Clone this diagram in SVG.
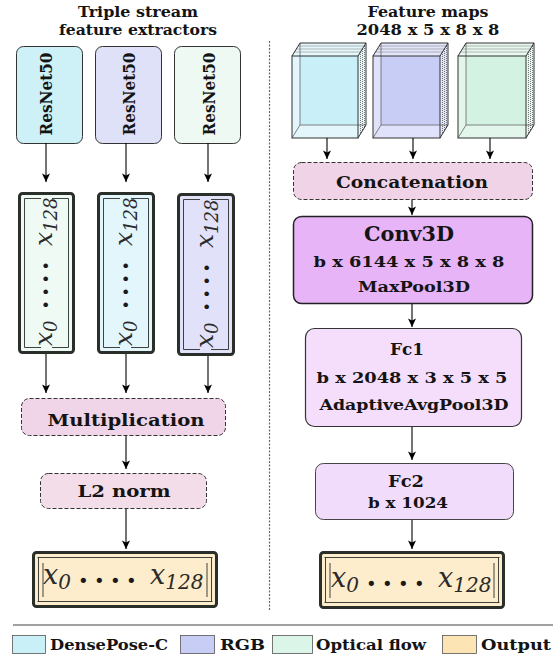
<svg xmlns="http://www.w3.org/2000/svg" width="553" height="659" viewBox="0 0 553 659">
<style>
.b{font-family:"DejaVu Serif","Liberation Serif",serif;font-weight:bold;fill:#141414}
.m{font-family:"DejaVu Serif",serif;font-style:italic;fill:#2a2a2a}
.d{font-family:"DejaVu Sans","Liberation Sans",sans-serif;fill:#1a1a1a}
.box{stroke:#333;stroke-width:1}
.dash{stroke:#333;stroke-width:1;stroke-dasharray:4 2}
.vec{stroke:#2b2f2a;stroke-width:3}
.inner{fill:none;stroke:#2b2f2a;stroke-width:0.9}
.edge{stroke:#333;stroke-width:1;fill:none}
.hid{stroke:#666;stroke-width:0.8;fill:none}
.dot{stroke:#555;stroke-width:0.8;stroke-dasharray:1 1;fill:none}
.c{stroke:#000;stroke-width:1.1;fill:none}
</style>
<defs>
<marker id="ah" markerWidth="10" markerHeight="10" refX="9" refY="5" orient="auto" markerUnits="userSpaceOnUse">
<path d="M0.5,1 L9,5 L0.5,9 L2.5,5 Z" fill="#000"/>
</marker>
</defs>

<!-- titles -->
<g id="title-left">
<text class="b" x="138" y="17" font-size="14" text-anchor="middle" textLength="120" lengthAdjust="spacingAndGlyphs">Triple stream</text>
<text class="b" x="138" y="35" font-size="14" text-anchor="middle" textLength="158" lengthAdjust="spacingAndGlyphs">feature extractors</text>
</g>
<g id="title-right">
<text class="b" x="428" y="17" font-size="14" text-anchor="middle" textLength="121" lengthAdjust="spacingAndGlyphs">Feature maps</text>
<text class="b" x="428" y="35" font-size="14" text-anchor="middle" textLength="143" lengthAdjust="spacingAndGlyphs">2048 x 5 x 8 x 8</text>
</g>

<!-- divider -->
<line x1="269.5" y1="41" x2="269.5" y2="610" stroke="#666" stroke-width="1.2" stroke-dasharray="2 1.5"/>

<!-- ResNet boxes -->
<g id="resnet1">
<rect class="box" x="16.5" y="46.5" width="66" height="97" rx="7" fill="#cdf1f7"/>
<text class="b" transform="translate(52,94) rotate(-90)" font-size="16" text-anchor="middle" textLength="83" lengthAdjust="spacingAndGlyphs">ResNet50</text>
</g>
<g id="resnet2">
<rect class="box" x="95.5" y="46.5" width="66" height="97" rx="7" fill="#dfe1f8"/>
<text class="b" transform="translate(135,94) rotate(-90)" font-size="16" text-anchor="middle" textLength="83" lengthAdjust="spacingAndGlyphs">ResNet50</text>
</g>
<g id="resnet3">
<rect class="box" x="174.5" y="46.5" width="66" height="97" rx="7" fill="#eef9f3"/>
<text class="b" transform="translate(215,94) rotate(-90)" font-size="16" text-anchor="middle" textLength="83" lengthAdjust="spacingAndGlyphs">ResNet50</text>
</g>

<!-- vector boxes -->
<g id="vec1">
<rect class="vec" x="19.5" y="193.5" width="54" height="159" rx="3" fill="#f0faf4"/>
<path class="inner" d="M41,198.5 H24.5 V347.5 H41 M52,198.5 H68.5 V347.5 H52"/>
<g transform="translate(52,0) rotate(-90)">
<text class="m" x="-346" y="0" font-size="25">x<tspan font-size="18" dy="5">0</tspan></text>
<text class="d" x="-283.5" y="-0.5" font-size="16" letter-spacing="3.6" text-anchor="middle">••••</text>
<text class="m" x="-246" y="0" font-size="25">x<tspan font-size="18" dy="5">128</tspan></text>
</g>
</g>
<g id="vec2">
<rect class="vec" x="98.5" y="193.5" width="55" height="159" rx="3" fill="#e2f6fb"/>
<path class="inner" d="M120,198.5 H103.5 V347.5 H120 M131,198.5 H148.5 V347.5 H131"/>
<g transform="translate(132,0) rotate(-90)">
<text class="m" x="-346" y="0" font-size="25">x<tspan font-size="18" dy="5">0</tspan></text>
<text class="d" x="-283.5" y="-0.5" font-size="16" letter-spacing="3.6" text-anchor="middle">••••</text>
<text class="m" x="-246" y="0" font-size="25">x<tspan font-size="18" dy="5">128</tspan></text>
</g>
</g>
<g id="vec3">
<rect class="vec" x="178.5" y="194.5" width="55" height="160" rx="3" fill="#e1e2f9"/>
<path class="inner" d="M200,199.5 H183.5 V349.5 H200 M211,199.5 H228.5 V349.5 H211"/>
<g transform="translate(213,0) rotate(-90)">
<text class="m" x="-348" y="0" font-size="25" fill="#555a88">x<tspan font-size="18" dy="5">0</tspan></text>
<text class="d" x="-285.5" y="-0.5" font-size="16" letter-spacing="3.6" text-anchor="middle">••••</text>
<text class="m" x="-248" y="0" font-size="25" fill="#555a88">x<tspan font-size="18" dy="5">128</tspan></text>
</g>
</g>

<!-- Multiplication -->
<g id="multiplication">
<rect class="dash" x="21.5" y="398.5" width="204" height="37" rx="8" fill="#f0d5e8"/>
<text class="b" x="126" y="426" font-size="17" text-anchor="middle" textLength="157" lengthAdjust="spacingAndGlyphs" fill="#2d1428">Multiplication</text>
</g>
<g id="l2norm">
<rect class="dash" x="40.5" y="473.5" width="166" height="35" rx="8" fill="#f3dde8"/>
<text class="b" x="124" y="497" font-size="17" text-anchor="middle" textLength="93" lengthAdjust="spacingAndGlyphs">L2 norm</text>
</g>
<g id="output-left">
<rect class="vec" x="33.5" y="552.5" width="183" height="54" rx="3" fill="#fdedcc"/>
<path class="inner" d="M37.5,557.5 H212.5 M37.5,601.5 H212.5 M38.5,557.5 V601.5 M211.5,557.5 V601.5 M43,563 V597 M207,563 V597"/>
<text class="m" x="43" y="584" font-size="27">x<tspan font-size="20" dy="5">0</tspan></text>
<text class="d" x="110" y="587" font-size="18" letter-spacing="5.4" text-anchor="middle">••••</text>
<text class="m" x="150" y="584" font-size="27">x<tspan font-size="20" dy="5">128</tspan></text>
</g>

<!-- cubes -->
<g id="cube1">
<polygon points="292,56 300,43 366,43 358,56" fill="#e6f7fb"/>
<polygon points="358,56 366,43 366,125 358,138" fill="#e6f7fb"/>
<rect x="292" y="56" width="66" height="82" fill="#e2f6fb"/>
<rect x="300" y="56" width="58" height="69" fill="#c9f0f8"/>
<path class="hid" d="M300,43 V125 H366 M292,138 L300,125"/>
<path class="dot" d="M294.5,52 H360.5 M296.5,49 H362.5 M298.5,46 H364.5 M360.5,52 V134 M362.5,49 V131 M364.5,46 V128"/>
<path class="edge" d="M292,56 L300,43 H366 L358,56 M366,43 V125 L358,138"/>
<rect class="edge" x="292" y="56" width="66" height="82"/>
</g>
<g id="cube2">
<polygon points="373,56 381,43 448,43 440,56" fill="#e3e6fb"/>
<polygon points="440,56 448,43 448,125 440,138" fill="#e3e6fb"/>
<rect x="373" y="56" width="67" height="82" fill="#dfe2fa"/>
<rect x="381" y="56" width="59" height="69" fill="#c8cdf5"/>
<path class="hid" d="M381,43 V125 H448 M373,138 L381,125"/>
<path class="dot" d="M375.5,52 H442.5 M377.5,49 H444.5 M379.5,46 H446.5 M442.5,52 V134 M444.5,49 V131 M446.5,46 V128"/>
<path class="edge" d="M373,56 L381,43 H448 L440,56 M448,43 V125 L440,138"/>
<rect class="edge" x="373" y="56" width="67" height="82"/>
</g>
<g id="cube3">
<polygon points="458,56 466,43 534,43 526,56" fill="#e8f8ef"/>
<polygon points="526,56 534,43 534,125 526,138" fill="#e8f8ef"/>
<rect x="458" y="56" width="68" height="82" fill="#e3f6ec"/>
<rect x="466" y="56" width="60" height="69" fill="#d4f2e1"/>
<path class="hid" d="M466,43 V125 H534 M458,138 L466,125"/>
<path class="dot" d="M460.5,52 H528.5 M462.5,49 H530.5 M464.5,46 H532.5 M528.5,52 V134 M530.5,49 V131 M532.5,46 V128"/>
<path class="edge" d="M458,56 L466,43 H534 L526,56 M534,43 V125 L526,138"/>
<rect class="edge" x="458" y="56" width="68" height="82"/>
</g>

<g id="concatenation">
<rect class="dash" x="293.5" y="162.5" width="239" height="37" rx="8" fill="#f0d3e6"/>
<text class="b" x="412" y="188" font-size="17" text-anchor="middle" textLength="152" lengthAdjust="spacingAndGlyphs" fill="#2d1428">Concatenation</text>
</g>
<g id="conv3d">
<rect x="293.5" y="216.5" width="239" height="87" rx="8" fill="#e8b4f8" stroke="#222" stroke-width="1.5"/>
<text class="b" x="409" y="241" font-size="21" text-anchor="middle" textLength="90" lengthAdjust="spacingAndGlyphs">Conv3D</text>
<text class="b" x="409" y="267" font-size="15" text-anchor="middle" textLength="191" lengthAdjust="spacingAndGlyphs">b x 6144 x 5 x 8 x 8</text>
<text class="b" x="414" y="292" font-size="15" text-anchor="middle" textLength="112" lengthAdjust="spacingAndGlyphs">MaxPool3D</text>
</g>
<g id="fc1">
<rect x="305.5" y="328.5" width="216" height="98" rx="9" fill="#f4defc" stroke="#333" stroke-width="1.2"/>
<text class="b" x="407" y="355" font-size="17" text-anchor="middle" textLength="34" lengthAdjust="spacingAndGlyphs">Fc1</text>
<text class="b" x="412" y="383" font-size="15" text-anchor="middle" textLength="191" lengthAdjust="spacingAndGlyphs">b x 2048 x 3 x 5 x 5</text>
<text class="b" x="414" y="410" font-size="15" text-anchor="middle" textLength="189" lengthAdjust="spacingAndGlyphs">AdaptiveAvgPool3D</text>
</g>
<g id="fc2">
<rect x="315.5" y="463.5" width="198" height="56" rx="8" fill="#f2dcfc" stroke="#444" stroke-width="1"/>
<text class="b" x="406" y="487" font-size="17" text-anchor="middle" textLength="36" lengthAdjust="spacingAndGlyphs" fill="#2d1428">Fc2</text>
<text class="b" x="408" y="508" font-size="15" text-anchor="middle" textLength="80" lengthAdjust="spacingAndGlyphs" fill="#2d1428">b x 1024</text>
</g>
<g id="output-right">
<rect class="vec" x="320.5" y="552.5" width="183" height="55" rx="3" fill="#fdedcc"/>
<path class="inner" d="M324.5,557.5 H499.5 M324.5,602.5 H499.5 M325.5,557.5 V602.5 M498.5,557.5 V602.5 M330,563 V598 M494,563 V598"/>
<text class="m" x="331" y="587" font-size="27">x<tspan font-size="20" dy="5">0</tspan></text>
<text class="d" x="398" y="590" font-size="18" letter-spacing="5.4" text-anchor="middle">••••</text>
<text class="m" x="438" y="587" font-size="27">x<tspan font-size="20" dy="5">128</tspan></text>
</g>

<!-- connectors -->
<g id="connectors">
<line class="c" x1="46" y1="143" x2="46" y2="182" marker-end="url(#ah)"/>
<line class="c" x1="126" y1="143" x2="126" y2="182" marker-end="url(#ah)"/>
<line class="c" x1="208" y1="143" x2="208" y2="182" marker-end="url(#ah)"/>
<line class="c" x1="46" y1="354" x2="46" y2="393" marker-end="url(#ah)"/>
<line class="c" x1="126" y1="354" x2="126" y2="393" marker-end="url(#ah)"/>
<line class="c" x1="208" y1="356" x2="208" y2="393" marker-end="url(#ah)"/>
<line class="c" x1="126" y1="436" x2="126" y2="469" marker-end="url(#ah)"/>
<line class="c" x1="126" y1="509" x2="126" y2="549" marker-end="url(#ah)"/>
<line class="c" x1="327" y1="138" x2="327" y2="159" marker-end="url(#ah)"/>
<line class="c" x1="413" y1="138" x2="413" y2="159" marker-end="url(#ah)"/>
<line class="c" x1="490" y1="138" x2="490" y2="159" marker-end="url(#ah)"/>
<line class="c" x1="412" y1="200" x2="412" y2="215" marker-end="url(#ah)"/>
<line class="c" x1="412" y1="304" x2="412" y2="327" marker-end="url(#ah)"/>
<line class="c" x1="412" y1="427" x2="412" y2="460" marker-end="url(#ah)"/>
<line class="c" x1="412" y1="520" x2="412" y2="549" marker-end="url(#ah)"/>
</g>

<!-- legend -->
<g id="legend">
<line x1="13" y1="625" x2="553" y2="625" stroke="#444" stroke-width="1.2"/>
<rect x="12.5" y="635.5" width="33" height="18" fill="#c9f0f7" stroke="#555" stroke-width="0.8"/>
<text class="b" x="50" y="650" font-size="15" textLength="118" lengthAdjust="spacingAndGlyphs">DensePose-C</text>
<rect x="180.5" y="635.5" width="34" height="18" fill="#c8cdf5" stroke="#555" stroke-width="0.8"/>
<text class="b" x="220" y="650" font-size="15" textLength="45" lengthAdjust="spacingAndGlyphs">RGB</text>
<rect x="272.5" y="635.5" width="40" height="18" fill="#dcf5e9" stroke="#555" stroke-width="0.8"/>
<text class="b" x="316" y="650" font-size="15" textLength="110" lengthAdjust="spacingAndGlyphs">Optical flow</text>
<rect x="442.5" y="635.5" width="34" height="18" fill="#fde4b5" stroke="#555" stroke-width="0.8"/>
<text class="b" x="481" y="650" font-size="15" textLength="70" lengthAdjust="spacingAndGlyphs">Output</text>
</g>
</svg>
